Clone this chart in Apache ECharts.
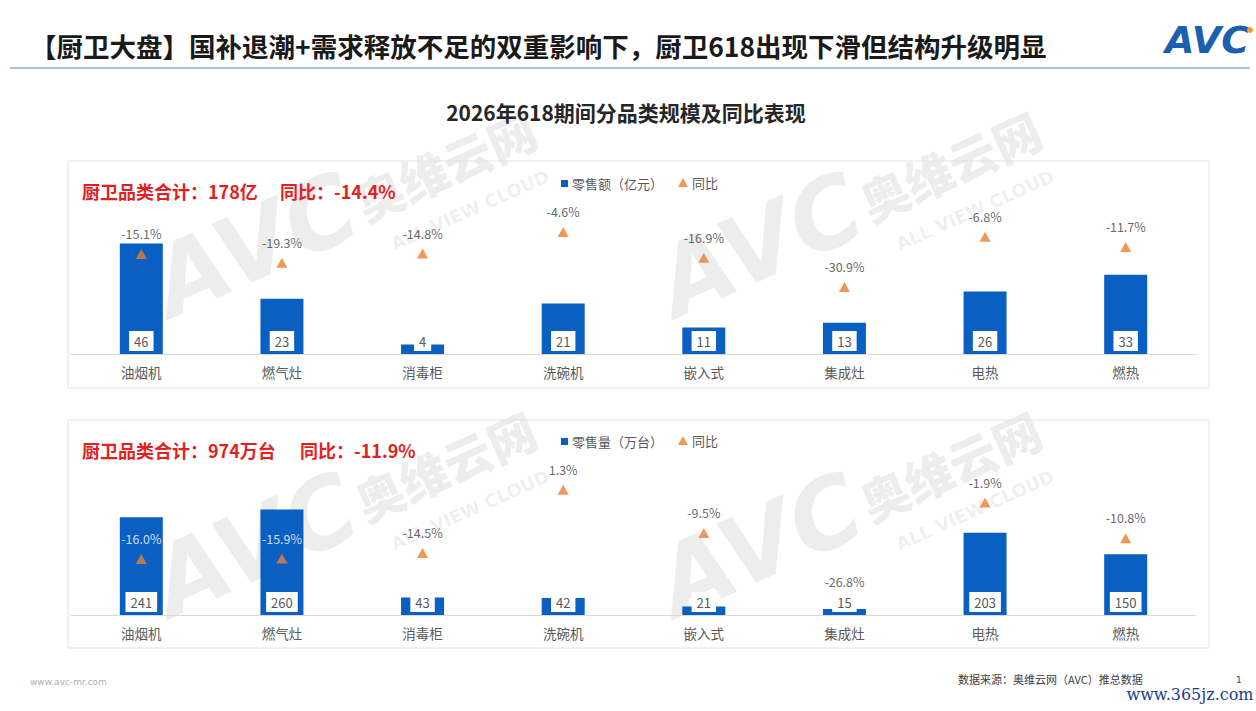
<!DOCTYPE html>
<html><head><meta charset="utf-8">
<script src="https://cdn.jsdelivr.net/npm/echarts@6/dist/echarts.min.js"></script>
<style>html,body{margin:0;padding:0;background:#fff;}#c{width:1256px;height:711px;}</style>
</head><body><div id="c"></div>
<script>
const categories = ['油烟机','燃气灶','消毒柜','洗碗机','嵌入式','集成灶','电热','燃热'];
const salesValue = [46,23,4,21,11,13,26,33];
const salesValueYoY = [-15.1,-19.3,-14.8,-4.6,-16.9,-30.9,-6.8,-11.7];
const salesVolume = [241,260,43,42,21,15,203,150];
const salesVolumeYoY = [-16.0,-15.9,-14.5,1.3,-9.5,-26.8,-1.9,-10.8];
const legendNames = ['零售额（亿元）','零售量（万台）','同比'];

const FONT = '"Noto Sans CJK SC","Noto Sans",sans-serif';
const BLUE = '#0a5fc2', ORANGE = '#ed7d31', GRAY = '#595959';
const LBL_DIST = 9;

const chart = echarts.init(document.getElementById('c'), null, {renderer:'svg'});

function barSeries(name, data, xi, yi){
  return {name, type:'bar', data, xAxisIndex:xi, yAxisIndex:yi, barWidth:43, z:2,
    itemStyle:{color:BLUE}, silent:true};
}
function labelSeries(data, xi, yi){
  return {name:'lbl'+xi, type:'bar', data, xAxisIndex:xi, yAxisIndex:yi, barWidth:43, barGap:'-100%', z:4,
    itemStyle:{color:'rgba(0,0,0,0)'}, silent:true,
    label:{show:true, position:'insideBottom', distance:3, fontSize:13, color:GRAY, fontFamily:FONT,
      backgroundColor:'#fff', padding:[4,5,3,5]}};
}
function yoySeries(data, xi, yi){
  return {name:'同比', type:'scatter', data, xAxisIndex:xi, yAxisIndex:yi, z:3,
    symbol:'triangle', symbolSize:[11,10], itemStyle:{color:ORANGE}, silent:true,
    label:{show:true, position:'top', distance:LBL_DIST, fontSize:12.5, color:'#404040', fontFamily:FONT,
      formatter:p=>(+p.value).toFixed(1)+'%'}};
}
function xAxis(gi){
  return {type:'category', data:categories, gridIndex:gi,
    axisLine:{lineStyle:{color:'#d9d9d9'}}, axisTick:{show:false},
    axisLabel:{color:GRAY, fontSize:13.5, margin:11, fontFamily:FONT}};
}
function yAxis(gi, min, max){
  return {type:'value', gridIndex:gi, min, max, show:false, splitLine:{show:false}};
}

const wm = 'rgba(0,0,0,0.07)';
function watermark(x, y){
  return [
    {type:'text', x:x, y:y+40, rotation:0.42, z:0, silent:true,
      style:{text:'AVC', font:'italic bold 96px "DejaVu Sans",sans-serif', fill:wm, textAlign:'center', textVerticalAlign:'middle'}},
    {type:'text', x:x+190, y:y-40, rotation:0.42, z:0, silent:true,
      style:{text:'奥维云网', font:'900 48px '+FONT, fill:wm, textAlign:'center', textVerticalAlign:'middle'}},
    {type:'text', x:x+215, y:y+5, rotation:0.42, z:0, silent:true,
      style:{text:'ALL VIEW CLOUD', font:'bold 18px "DejaVu Sans",sans-serif', fill:wm, textAlign:'center', textVerticalAlign:'middle'}}
  ];
}
function legendItem(name, icon, left, top, w, h){
  return {data:[{name, icon}], left, top, itemWidth:w, itemHeight:h, itemGap:0, selectedMode:false,
    textStyle:{fontSize:13, color:GRAY, fontFamily:FONT, padding:[0,0,0,-1]}};
}

const graphics = [
  ...watermark(255,205), ...watermark(760,205), ...watermark(255,505), ...watermark(760,505),
  {type:'text', x:30, y:45, style:{text:'【厨卫大盘】国补退潮+需求释放不足的双重影响下，厨卫618出现下滑但结构升级明显',
    font:'bold 26.5px '+FONT, fill:'#1a1a1a', textVerticalAlign:'middle'}},
  {type:'line', shape:{x1:10,y1:68,x2:1250,y2:68}, style:{stroke:'#a9c4d4', lineWidth:2}},
  {type:'text', x:1207, y:40, style:{text:'AVC', font:'italic bold 38px "DejaVu Sans",sans-serif', fill:'#1b5fae', textAlign:'center', textVerticalAlign:'middle'}},
  {type:'circle', shape:{cx:1250, cy:30, r:3}, style:{fill:'#f0a020'}},
  {type:'text', x:626, y:112, style:{text:'2026年618期间分品类规模及同比表现', font:'bold 21px '+FONT, fill:'#262626', textAlign:'center', textVerticalAlign:'middle'}},
  {type:'rect', shape:{x:68,y:161,width:1141,height:227}, style:{fill:'none', stroke:'#e3e3e3', lineWidth:1}},
  {type:'rect', shape:{x:68,y:420,width:1141,height:228}, style:{fill:'none', stroke:'#e3e3e3', lineWidth:1}},
  {type:'text', x:82, y:191, style:{text:'厨卫品类合计：178亿', font:'bold 18px '+FONT, fill:'#e41f1f', textVerticalAlign:'middle'}},
  {type:'text', x:280, y:191, style:{text:'同比：-14.4%', font:'bold 18px '+FONT, fill:'#e41f1f', textVerticalAlign:'middle'}},
  {type:'text', x:82, y:450, style:{text:'厨卫品类合计：974万台', font:'bold 18px '+FONT, fill:'#e41f1f', textVerticalAlign:'middle'}},
  {type:'text', x:300, y:450, style:{text:'同比：-11.9%', font:'bold 18px '+FONT, fill:'#e41f1f', textVerticalAlign:'middle'}},
  {type:'text', x:30, y:682, style:{text:'www.avc-mr.com', font:'9px "DejaVu Sans",sans-serif', fill:'#b0b0b0', textVerticalAlign:'middle'}},
  {type:'text', x:958, y:679, style:{text:'数据来源：奥维云网（AVC）推总数据', font:'11px '+FONT, fill:'#404040', textVerticalAlign:'middle'}},
  {type:'text', x:1236, y:680, style:{text:'1', font:'9px "DejaVu Sans",sans-serif', fill:'#404040', textVerticalAlign:'middle'}},
  {type:'text', x:1190, y:694, z:10, style:{text:'www.365jz.com', font:'16px "DejaVu Serif",serif', fill:'#1a3d8f', textAlign:'center', textVerticalAlign:'middle', backgroundColor:'#fff', padding:[1,2]}}
];

const option = {
  backgroundColor:'#fff',
  animation:false,
  textStyle:{fontFamily:FONT},
  graphic:graphics,
  legend:[
    legendItem(legendNames[0], 'rect', 556, 172, 7, 7),
    legendItem(legendNames[2], 'triangle', 673, 171, 10, 9),
    legendItem(legendNames[1], 'rect', 556, 430, 7, 7),
    legendItem(legendNames[2], 'triangle', 673, 429, 10, 9)
  ],
  grid:[
    {left:71, width:1125, top:210, height:144},
    {left:71, width:1125, top:471, height:144}
  ],
  xAxis:[xAxis(0), xAxis(1)],
  yAxis:[yAxis(0,0,60), yAxis(0,-63,6), yAxis(1,0,355), yAxis(1,-30,6)],
  series:[
    barSeries(legendNames[0], salesValue, 0, 0),
    yoySeries(salesValueYoY, 0, 1),
    labelSeries(salesValue, 0, 0),
    barSeries(legendNames[1], salesVolume, 1, 2),
    yoySeries(salesVolumeYoY, 1, 3),
    labelSeries(salesVolume, 1, 2)
  ]
};
chart.setOption(option);

// YoY labels that fall inside a bar are drawn in white (as in the reference)
function styledYoY(yoy, bars, xi, yBar, yYoY){
  return yoy.map((v, i) => {
    const py = chart.convertToPixel({xAxisIndex:xi, yAxisIndex:yYoY}, [i, v])[1];
    const barTop = chart.convertToPixel({xAxisIndex:xi, yAxisIndex:yBar}, [i, bars[i]])[1];
    const labelCenter = py - 5 - LBL_DIST - 7;
    return labelCenter > barTop ? {value:v, label:{color:'#fff'}} : v;
  });
}
chart.setOption({series:[
  {}, {data:styledYoY(salesValueYoY, salesValue, 0, 0, 1)}, {},
  {}, {data:styledYoY(salesVolumeYoY, salesVolume, 1, 2, 3)}, {}
]});
</script></body></html>
